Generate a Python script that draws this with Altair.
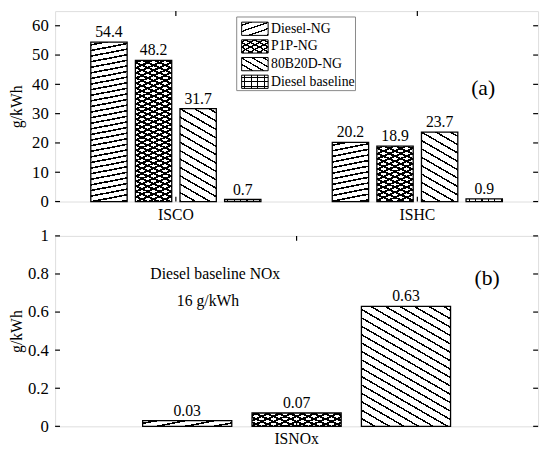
import math
import altair as alt
import pandas as pd

# ---------------- data ----------------
categories_top = ["ISCO", "ISHC"]
series_top = ["Diesel-NG", "P1P-NG", "80B20D-NG", "Diesel baseline"]
isco_values = [54.4, 48.2, 31.7, 0.7]
ishc_values = [20.2, 18.9, 23.7, 0.9]

categories_bottom = ["ISNOx"]
series_bottom = ["Diesel-NG", "P1P-NG", "80B20D-NG"]
isnox_values = [0.03, 0.07, 0.63]

y_ticks_top = [0, 10, 20, 30, 40, 50, 60]
y_ticks_bottom = [0, 0.2, 0.4, 0.6, 0.8, 1]

annot_a = ["(a)"]
annot_b = ["(b)"]
annot_nox = ["Diesel baseline NOx"]
annot_nox_val = ["16 g/kWh"]

# ---------------- layout / style ----------------
W = 492
H_TOP = 194
H_BOT = 194
Y_MAX_TOP = 65
Y_MAX_BOT = 1
PI = 0.185   # xOffset paddingInner
PO = 0.8     # xOffset paddingOuter
FONT = "Liberation Serif"

# hatch: (angle in degrees, period px, line width px)
HATCH = {
    "Diesel-NG": [(11, 5.6, 1.6)],
    "P1P-NG": [(24, 4.8, 1.8), (-24, 4.8, 1.8)],
    "80B20D-NG": [(-30, 7.4, 1.5)],
    "Diesel baseline": [(0, 5.5, 1.3), (90, 6.5, 1.3)],
}
ICON_HATCH = {
    "Diesel-NG": [(19, 6.0, 1.3)],
    "P1P-NG": [(28, 4.3, 1.4), (-28, 4.3, 1.4)],
    "80B20D-NG": [(-30, 5.6, 1.3)],
    "Diesel baseline": [(0, 4.5, 1.2), (90, 6.6, 1.2)],
}
LEG_BOX = dict(x=185, x2=306, y=6, y2=81)
LEG_ICON_X = (190, 217)
LEG_LABEL_X = 220
LEG_ROWS = [9, 81]
LEG_PI = 0.25
LEG_ICON_H = 13.5


def stripe_gradient(w, h, angle, period, lw, gap_color):
    r = math.radians(angle)
    nx, ny = math.sin(r), math.cos(r)
    a, b = nx * w, ny * h
    corners = {(0, 0): 0.0, (1, 0): a, (0, 1): b, (1, 1): a + b}
    p1 = min(corners, key=corners.get)
    pmax = max(corners, key=corners.get)
    smin, smax = corners[p1], corners[pmax]
    S = max(smax - smin, 1e-6)
    denom = max(a * a + b * b, 1e-9)
    k = S / denom
    x2 = p1[0] + k * a
    y2 = p1[1] + k * b
    stops = [{"offset": 0, "color": gap_color}]
    s = (period - lw) / 2.0
    while s < S:
        o1 = round(min(s / S, 1.0), 5)
        o2 = round(min((s + lw) / S, 1.0), 5)
        stops += [
            {"offset": o1, "color": gap_color},
            {"offset": o1, "color": "black"},
            {"offset": o2, "color": "black"},
            {"offset": o2, "color": gap_color},
        ]
        s += period
    stops.append({"offset": 1, "color": gap_color})
    return {"gradient": "linear", "x1": p1[0], "y1": p1[1],
            "x2": round(x2, 5), "y2": round(y2, 5), "stops": stops}


def hatch_conditions(items, styles):
    """items: list of (test, w, h, series). returns (base conds, overlay conds)."""
    c1, c2 = [], []
    for test, w, h, s in items:
        st = styles[s]
        c1.append({"test": test, "value": stripe_gradient(w, h, *st[0], "white")})
        if len(st) > 1:
            c2.append({"test": test,
                       "value": stripe_gradient(w, h, *st[1], "rgba(0,0,0,0)")})
    return c1, c2


def make_df(cats, series, values_by_cat):
    rows = []
    for cat in cats:
        for s, v in zip(series, values_by_cat[cat]):
            rows.append({"cat": cat, "series": s, "value": v})
    return pd.DataFrame(rows)


def legend_layers(series):
    ldf = pd.DataFrame({"series": series})
    yscale = alt.Scale(domain=series, range=LEG_ROWS, paddingInner=LEG_PI,
                       paddingOuter=LEG_PI / 2)
    ly = alt.Y("series:N", scale=yscale, axis=None, title=None)
    w = LEG_ICON_X[1] - LEG_ICON_X[0]
    items = [(f"datum.series === '{s}'", w, LEG_ICON_H, s) for s in series]
    c1, c2 = hatch_conditions(items, ICON_HATCH)
    box = alt.Chart(pd.DataFrame({"k": [0]})).mark_rect(
        fill="white", stroke="#888", strokeWidth=1
    ).encode(x=alt.value(LEG_BOX["x"]), x2=alt.value(LEG_BOX["x2"]),
             y=alt.value(LEG_BOX["y"]), y2=alt.value(LEG_BOX["y2"]))
    icons = alt.Chart(ldf).mark_rect(stroke="black", strokeWidth=1).encode(
        y=ly, x=alt.value(LEG_ICON_X[0]), x2=alt.value(LEG_ICON_X[1]),
        fill=alt.FillValue(value="white", condition=c1))
    icons2 = alt.Chart(ldf).mark_rect(strokeWidth=0).encode(
        y=ly, x=alt.value(LEG_ICON_X[0]), x2=alt.value(LEG_ICON_X[1]),
        fill=alt.FillValue(value="transparent", condition=c2))
    labels = alt.Chart(ldf).mark_text(font=FONT, fontSize=14, align="left",
                                      baseline="middle", color="black").encode(
        y=ly, x=alt.value(LEG_LABEL_X), text="series:N")
    return [box, icons, icons2, labels]


def panel(cats, series, values_by_cat, ymax, H, yticks, yfmt, extra_layers):
    df = make_df(cats, series, values_by_cat)
    n = len(series)
    band = W / len(cats)
    step = band / (n - PI + 2 * PO)
    bw = step * (1 - PI)
    items = []
    for cat in cats:
        for s, v in zip(series, values_by_cat[cat]):
            items.append((f"datum.cat === '{cat}' && datum.series === '{s}'",
                          bw, v / ymax * H, s))
    conds1, conds2 = hatch_conditions(items, HATCH)

    xscale = alt.Scale(domain=cats, paddingInner=0, paddingOuter=0)
    oscale = alt.Scale(domain=series, paddingInner=PI, paddingOuter=PO)
    yscale = alt.Scale(domain=[0, ymax], nice=False, zero=True)

    xe = alt.X("cat:N", scale=xscale, axis=None, title=None)
    ye = alt.Y("value:Q", scale=yscale, axis=None, title=None)
    xo = alt.XOffset("series:N", scale=oscale)

    bars = alt.Chart(df).mark_bar(stroke="black", strokeWidth=1.3).encode(
        x=alt.X("cat:N", scale=xscale, title=None,
                axis=alt.Axis(orient="bottom", ticks=False, tickSize=0, domain=False,
                              labelFontSize=16, labelFont=FONT, labelColor="black",
                              labelPadding=5, labelAngle=0, grid=False)),
        xOffset=xo,
        y=alt.Y("value:Q", scale=yscale, title="g/kWh",
                axis=alt.Axis(orient="left", values=yticks, format=yfmt, ticks=False,
                              tickSize=0, domain=False, labelFontSize=17, labelFont=FONT,
                              labelColor="black", labelPadding=7, grid=False,
                              titleFont=FONT, titleFontSize=16, titleFontWeight="normal",
                              titleColor="black", titleX=-31, titleY=H / 2)),
        fill=alt.FillValue(value="white", condition=conds1),
    )
    overlay = alt.Chart(df).mark_bar(strokeWidth=0).encode(
        x=xe, xOffset=xo, y=ye,
        fill=alt.FillValue(value="transparent", condition=conds2),
    )
    labels = alt.Chart(df).mark_text(font=FONT, fontSize=16, baseline="alphabetic",
                                     dy=-5, color="black").encode(
        x=xe, xOffset=xo, y=ye,
        text=alt.Text("value:Q", format="~g"),
    )

    ytick_df = pd.DataFrame({"v": yticks})
    xtick_df = pd.DataFrame({"cat": cats})
    yt = alt.Y("v:Q", scale=yscale, axis=None, title=None)
    rule = dict(color="black", strokeWidth=1.2)
    tick_left = alt.Chart(ytick_df).mark_rule(**rule).encode(
        y=yt, x=alt.value(0), x2=alt.value(5))
    tick_right = alt.Chart(ytick_df).mark_rule(**rule).encode(
        y=yt, x=alt.value(W - 5), x2=alt.value(W))
    tick_bottom = alt.Chart(xtick_df).mark_rule(**rule).encode(
        x=xe, y=alt.value(H - 5), y2=alt.value(H))
    tick_top = alt.Chart(xtick_df).mark_rule(**rule).encode(
        x=xe, y=alt.value(0), y2=alt.value(5))

    layers = [bars, overlay, labels, tick_left, tick_right, tick_bottom, tick_top]
    layers += extra_layers
    return alt.layer(*layers).resolve_scale(y="independent").resolve_axis(
        x="independent", y="independent").properties(width=W, height=H)


def annotation(texts, x, y, size=16, align="left"):
    return alt.Chart(pd.DataFrame({"t": texts})).mark_text(
        font=FONT, fontSize=size, align=align, baseline="middle", color="black"
    ).encode(text="t:N", x=alt.value(x), y=alt.value(y))


top = panel(categories_top, series_top,
            {"ISCO": isco_values, "ISHC": ishc_values},
            Y_MAX_TOP, H_TOP, y_ticks_top, ".0f",
            legend_layers(series_top)
            + [annotation(annot_a, 436, 78, size=22, align="center")])

bottom = panel(categories_bottom, series_bottom,
               {"ISNOx": isnox_values},
               Y_MAX_BOT, H_BOT, y_ticks_bottom, "~g",
               [annotation(annot_b, 440, 43, size=22, align="center"),
                annotation(annot_nox, 97, 39),
                annotation(annot_nox_val, 124, 66)])

chart = alt.vconcat(top, bottom, spacing=35, bounds="flush").resolve_scale(
    x="independent", y="independent", xOffset="independent"
).properties(
    padding={"left": 0, "top": -3, "right": 2, "bottom": 1}
).configure_view(stroke="black", strokeWidth=1.6).configure(
    font=FONT, background="white"
)

chart.save("out.html", embed_options={"renderer": "svg", "actions": False})
